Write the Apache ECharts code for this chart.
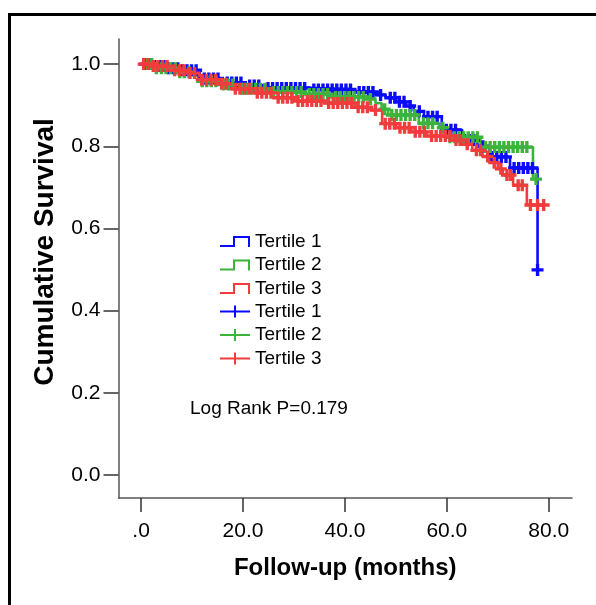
<!DOCTYPE html>
<html>
<head>
<meta charset="utf-8">
<script src="https://cdn.jsdelivr.net/npm/echarts@6/dist/echarts.min.js"></script>
<style>
  html, body { margin: 0; padding: 0; background: #fff; }
  #chart { width: 596px; height: 605px; }
</style>
</head>
<body>
<div id="chart"></div>
<script>
// ---------- DATA ----------
const seriesNames = ['Tertile 1', 'Tertile 2', 'Tertile 3'];
const xTickValues = [0, 20, 40, 60, 80];
const xTickLabels = ['.0', '20.0', '40.0', '60.0', '80.0'];
const yTickValues = [0, 0.2, 0.4, 0.6, 0.8, 1.0];
const yTickLabels = ['0.0', '0.2', '0.4', '0.6', '0.8', '1.0'];
const xAxisTitle = 'Follow-up (months)';
const yAxisTitle = 'Cumulative Survival';
const statText = 'Log Rank P=0.179';

// Tertile 1 (event times, survival after event)
const t1EventTimes = [0, 2, 5, 8, 11.5, 16, 20, 24, 33, 42, 46, 48, 50, 52, 53.5, 55.5, 59, 63, 66, 68.4, 72.4, 77.8];
const t1Survival   = [1.0, 0.995, 0.99, 0.985, 0.965, 0.955, 0.948, 0.942, 0.938, 0.932, 0.925, 0.918, 0.908, 0.898, 0.885, 0.872, 0.84, 0.815, 0.80, 0.774, 0.747, 0.499];
const t1Censored   = [0.8, 1.7, 2.6, 3.6, 4.5, 5.4, 6.3, 7.2, 8.1, 9.0, 9.9, 10.8, 12.4, 13.3, 14.2, 15.1, 16.9, 17.8, 18.7, 19.6, 21.3, 22.2, 23.1, 24.9, 25.8, 26.7, 27.6, 28.5, 29.4, 30.3, 31.2, 32.1, 33.9, 34.8, 35.7, 36.6, 37.5, 38.4, 39.3, 40.2, 41.1, 42.8, 43.7, 44.6, 45.5, 47.0, 48.9, 49.8, 50.7, 51.6, 52.8, 54.6, 56.3, 57.2, 58.1, 59.9, 60.8, 61.7, 63.5, 64.4, 65.3, 67.1, 68.9, 69.8, 70.7, 71.6, 73.2, 74.1, 75.0, 75.9, 76.8, 77.8];

// Tertile 2
const t2EventTimes = [0, 3, 7, 10, 11.5, 15, 19, 25, 32, 37, 44, 46, 47.2, 48.5, 54.5, 58.5, 60, 66.6, 76.9];
const t2Survival   = [1.0, 0.99, 0.98, 0.973, 0.958, 0.95, 0.94, 0.932, 0.927, 0.92, 0.915, 0.905, 0.89, 0.876, 0.856, 0.845, 0.822, 0.798, 0.72];
const t2Censored   = [1.2, 2.1, 3.0, 4.0, 4.9, 5.8, 6.7, 7.6, 8.5, 9.4, 12.0, 12.9, 13.8, 14.7, 16.2, 17.1, 18.0, 19.8, 20.7, 21.6, 22.5, 23.4, 24.3, 26.0, 26.9, 27.8, 28.7, 29.6, 30.5, 31.4, 33.0, 33.9, 34.8, 35.7, 36.6, 38.2, 39.1, 40.0, 40.9, 41.8, 42.7, 43.6, 45.0, 47.8, 49.2, 50.1, 51.0, 51.9, 52.8, 53.7, 55.4, 56.3, 57.2, 59.2, 60.6, 61.5, 62.4, 63.3, 64.2, 65.1, 66.0, 67.6, 68.5, 69.4, 70.3, 71.2, 72.1, 73.0, 73.9, 74.8, 75.7, 77.5];

// Tertile 3
const t3EventTimes = [0, 2, 6, 9, 11.2, 15, 18, 22, 26, 30, 36, 42, 45, 47.3, 50, 53, 56, 61, 63, 65, 67, 68.5, 70, 71, 73, 75.7];
const t3Survival   = [1.0, 0.995, 0.985, 0.978, 0.962, 0.952, 0.94, 0.93, 0.918, 0.91, 0.905, 0.895, 0.888, 0.855, 0.845, 0.835, 0.825, 0.815, 0.805, 0.79, 0.775, 0.76, 0.745, 0.73, 0.705, 0.657];
const t3Censored   = [0.5, 1.4, 2.4, 3.3, 4.2, 5.1, 6.6, 7.5, 8.4, 9.6, 10.5, 11.9, 12.8, 13.7, 14.6, 15.8, 16.7, 18.5, 19.4, 20.3, 21.2, 22.8, 23.7, 24.6, 25.5, 26.9, 27.8, 28.7, 29.6, 30.8, 31.7, 32.6, 33.5, 34.4, 35.3, 36.8, 37.7, 38.6, 39.5, 40.4, 41.3, 42.6, 43.5, 44.4, 46.0, 47.9, 48.8, 49.7, 50.8, 51.7, 52.6, 53.8, 54.7, 55.6, 57.0, 57.9, 58.8, 59.7, 60.6, 61.8, 62.6, 64.0, 65.8, 66.6, 68.0, 69.3, 70.6, 71.8, 72.5, 74.0, 74.8, 76.4, 77.8, 79.0];

// ---------- STYLE ----------
const colors = ['#0a0aff', '#3cb43c', '#f03c3c'];
const FONT = '"Liberation Sans", Arial, sans-serif';
const stepIcon = 'path://M0,9 L13,9 L13,0 L30,0 L30,11 L28,11 L28,2 L15,2 L15,11 L0,11 Z';
const plusIcon = 'path://M0,5 L14,5 L14,0 L16,0 L16,5 L30,5 L30,7 L16,7 L16,12 L14,12 L14,7 L0,7 Z';
const censorSymbol = 'path://M3.6,0 L6.4,0 L6.4,3.6 L10,3.6 L10,6.4 L6.4,6.4 L6.4,10 L3.6,10 L3.6,6.4 L0,6.4 L0,3.6 L3.6,3.6 Z';

const groups = [
  { times: t1EventTimes, surv: t1Survival, cens: t1Censored },
  { times: t2EventTimes, surv: t2Survival, cens: t2Censored },
  { times: t3EventTimes, surv: t3Survival, cens: t3Censored }
];

function survAt(g, t) {
  let s = g.surv[0];
  for (let i = 0; i < g.times.length; i++) {
    if (g.times[i] <= t) s = g.surv[i];
  }
  return s;
}

const series = [];
groups.forEach((g, i) => {
  const data = g.times.map((t, k) => [t, g.surv[k]]);
  const lastC = Math.max.apply(null, g.cens);
  const lastT = g.times[g.times.length - 1];
  if (lastC > lastT) data.push([lastC, g.surv[g.surv.length - 1]]);
  series.push({
    name: seriesNames[i], type: 'line', step: 'end', data: data,
    showSymbol: false, symbol: 'none',
    lineStyle: { color: colors[i], width: 2.6 },
    itemStyle: { color: colors[i] },
    z: 2 + i, animation: false
  });
});
groups.forEach((g, i) => {
  series.push({
    name: seriesNames[i], type: 'scatter',
    data: g.cens.map(t => [t, survAt(g, t)]),
    symbol: censorSymbol, symbolSize: [12, 12],
    itemStyle: { color: colors[i], opacity: 1 },
    z: 5 + i, animation: false
  });
});

function lookup(vals, labels, v) {
  let best = 0;
  for (let i = 0; i < vals.length; i++) if (Math.abs(vals[i] - v) < Math.abs(vals[best] - v)) best = i;
  return labels[best];
}

const chart = echarts.init(document.getElementById('chart'), null, { renderer: 'canvas' });
chart.setOption({
  animation: false,
  backgroundColor: '#fff',
  textStyle: { fontFamily: FONT },
  grid: { left: 118.5, top: 39, width: 453.5, height: 459, containLabel: false },
  xAxis: {
    type: 'value', min: -4.43, max: 84.56,
    name: xAxisTitle, nameLocation: 'middle', nameGap: 58,
    nameTextStyle: { fontSize: 24, fontWeight: 'bold', color: '#000', fontFamily: FONT },
    axisLine: { show: true, onZero: false, lineStyle: { color: '#555', width: 1.5 } },
    axisTick: { show: true, customValues: xTickValues, length: 14, inside: false, lineStyle: { color: '#333', width: 1.5 } },
    axisLabel: { customValues: xTickValues, margin: 23, fontSize: 21, color: '#000', fontFamily: FONT,
      formatter: v => lookup(xTickValues, xTickLabels, v) },
    splitLine: { show: false }
  },
  yAxis: {
    type: 'value', min: -0.056, max: 1.061,
    name: yAxisTitle, nameLocation: 'middle', nameGap: 59,
    nameTextStyle: { fontSize: 28, fontWeight: 'bold', color: '#000', fontFamily: FONT, padding: [0, 0, 0, 33] },
    axisLine: { show: true, onZero: false, lineStyle: { color: '#555', width: 1.5 } },
    axisTick: { show: true, customValues: yTickValues, length: 15, inside: false, lineStyle: { color: '#333', width: 1.5 } },
    axisLabel: { customValues: yTickValues, margin: 18, fontSize: 21, color: '#000', fontFamily: FONT,
      formatter: v => lookup(yTickValues, yTickLabels, v) },
    splitLine: { show: false }
  },
  legend: [
    {
      orient: 'vertical', left: 220, top: 232, padding: 0, itemWidth: 30, itemHeight: 11, itemGap: 4.5,
      selectedMode: false,
      textStyle: { fontSize: 19, color: '#000', fontFamily: FONT },
      data: seriesNames.map((n, i) => ({ name: n, icon: stepIcon, itemStyle: { color: colors[i], borderWidth: 0 } }))
    },
    {
      orient: 'vertical', left: 220, top: 302, padding: 0, itemWidth: 30, itemHeight: 12, itemGap: 4.5,
      selectedMode: false,
      textStyle: { fontSize: 19, color: '#000', fontFamily: FONT },
      data: seriesNames.map((n, i) => ({ name: n, icon: plusIcon, itemStyle: { color: colors[i], borderWidth: 0 } }))
    }
  ],
  graphic: [
    { type: 'rect', left: 7, top: 12, shape: { x: 0, y: 0, width: 700, height: 700 },
      style: { fill: 'none', stroke: '#000', lineWidth: 3 }, silent: true, z: 100 },
    { type: 'text', left: 190, top: 399,
      style: { text: statText, fontSize: 19, fill: '#000', fontFamily: FONT }, z: 100 }
  ],
  series: series
});
</script>
</body>
</html>
